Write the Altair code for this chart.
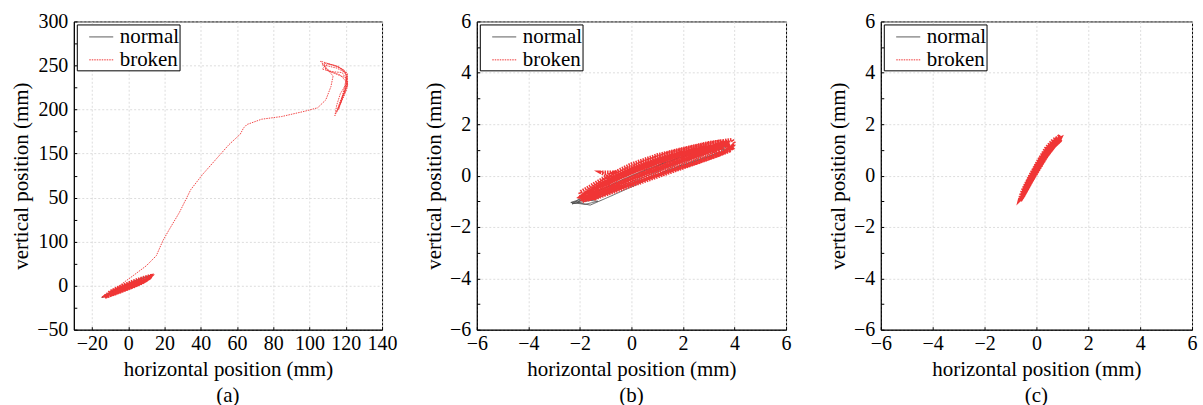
import altair as alt
import pandas as pd

FONT = "Liberation Serif"

# ---------------- panel (a) ----------------
a_normal_x = [-14.5, -10, -5, 0, 5, 10, 12.8, 10, 5, 0, -5, -10, -14.5,
              -13, -8, -3, 2, 7, 12, 13.5, 11, 6, 1, -4, -9, -13,
              -9, -4, 1, 6, 9, 6, 1, -4, -9]
a_normal_y = [-13.2, -10, -6, -2, 3, 8, 12, 9.5, 6, 1.5, -3.5, -8.5, -13.2,
              -12.5, -8.5, -4.5, 0, 4.5, 10, 12.5, 11, 7.5, 3, -1.5, -6.5, -12,
              -8, -4.5, -0.5, 3.5, 6.5, 5, 1.5, -2.5, -7]

a_loops_x = [-13, -8, -3, 2, 7, 11, 13, 10, 5, 0, -5, -10, -13,
             -12, -7, -2, 3, 8, 12, 12.5, 9, 4, -1, -6, -10, -12.5,
             -11, -6, -1, 4, 9, 12, 8, 3, -2, -7, -11,
             -10, -5, 0, 5, 10, 11.5, 7, 2, -3, -8, -10.5,
             -8, -3, 2, 7, 9, 5, 0, -5, -8]
a_loops_y = [-13, -9.5, -5.5, -1.5, 3, 7.5, 11.5, 10, 6.5, 2.5, -2, -7.5, -12,
             -12.5, -9, -5, -1, 3.5, 9, 11, 9.5, 6, 2, -2.5, -7, -11.5,
             -11.5, -7.5, -3.5, 0.5, 5, 9.5, 8, 4.5, 0.5, -4, -9,
             -10.5, -6.5, -2.5, 1.5, 6, 9, 6.5, 3, -1, -5.5, -9,
             -8, -4, 0, 4, 6, 4, 0.5, -3.5, -6.5]
a_path_x = [-8, -3.6, 2.7, 10, 15.5, 19.1, 22.7, 28.2, 34.5, 40.9, 48.2, 55.5, 61.8,
            63.6, 65.5, 73.6, 84.5, 97.3, 104.5, 109, 111.8,
            113, 108, 106, 112, 118, 121, 120, 117, 115, 114, 116, 119, 121, 120,
            116, 110, 107, 112, 118, 121, 119, 117, 115, 117, 120, 121, 119, 114,
            108, 109, 115, 120, 120, 118, 116, 118, 121, 120, 115, 107, 111, 117,
            121, 119, 117, 119, 121, 117]
a_path_y = [-6.5, 1.9, 11.3, 22.6, 34, 51, 64, 83, 109, 126, 143, 160, 172,
            179, 183, 189, 192, 198, 202, 211, 226,
            238, 250, 255, 251, 246, 238, 228, 218, 205, 193, 203, 215, 226, 240,
            249, 252, 246, 243, 242, 232, 220, 208, 197, 210, 222, 236, 245, 250,
            253, 245, 240, 236, 224, 212, 200, 214, 228, 242, 247, 251, 244, 239,
            230, 218, 206, 223, 241, 247]

# ---------------- panel (b) ----------------
b_normal_x = [-2.3, -1.5, -0.5, 0.5, 1.5, 2.5, 3.7, 3.0, 2.0, 1.0, 0.0, -1.0, -2.0, -2.3,
              -2.1, -1.6, -0.8, 0.2, 1.2, 2.2, 3.5, 3.6, 2.6, 1.6, 0.6, -0.4, -1.4, -2.1,
              -1.9, -1.0, 0.0, 1.0, 2.0, 3.2, 3.8, 3.3, 2.3, 1.3, 0.3, -0.7, -1.7,
              -1.5, -0.5, 0.5, 1.5, 2.5, 3.2, 2.5, 1.5, 0.5, -0.5, -1.5,
              -2.35, -1.8, -1.3, -1.8, -2.35]
b_normal_y = [-1.1, -0.95, -0.55, -0.15, 0.25, 0.6, 1.0, 1.05, 0.75, 0.4, 0.0, -0.45, -0.9, -1.1,
              -1.05, -1.15, -0.8, -0.35, 0.1, 0.45, 0.9, 1.05, 0.95, 0.6, 0.2, -0.2, -0.65, -1.05,
              -0.9, -0.7, -0.3, 0.05, 0.4, 0.8, 1.05, 1.15, 0.85, 0.5, 0.1, -0.35, -0.8,
              -0.85, -0.45, -0.05, 0.35, 0.7, 0.95, 0.8, 0.45, 0.05, -0.35, -0.75,
              -1.05, -1.12, -1.0, -0.95, -1.05]

b_loops_x = [-1.9, -1.0, 0.0, 1.0, 2.0, 3.0, 3.8, 4.0, 3.9, 3.0, 2.0, 1.0, 0.0, -1.0, -2.0, -1.9,
             -1.8, -0.9, 0.1, 1.1, 2.1, 3.1, 3.8, 3.7, 2.9, 1.9, 0.9, -0.1, -1.1, -1.8,
             -1.7, -0.8, 0.2, 1.2, 2.2, 3.2, 3.6, 2.8, 1.8, 0.8, -0.2, -1.2, -1.7,
             -1.5, -0.5, 0.5, 1.5, 2.5, 3.4, 3.0, 2.0, 1.0, 0.0, -1.0, -1.5,
             -1.8, -1.2, -0.3, 0.7, 1.7, 2.7, 3.6, 3.9, 3.4, 2.4, 1.4, 0.4, -0.6, -1.6, -1.8,
             -1.6, -0.7, 0.3, 1.3, 2.3, 3.3, 3.8, 3.2, 2.2, 1.2, 0.2, -0.8, -1.2, -0.7, -1.6,
             -1.4, -0.4, 0.6, 1.6, 2.6, 3.5, 3.1, 2.1, 1.1, 0.1, -0.9, -1.4,
             -2.0, -1.1, -0.1, 0.9, 1.9, 2.9, 3.7, 3.5, 2.5, 1.5, 0.5, -0.5, -1.5, -2.0,
             -1.7, -0.6, 0.4, 1.4, 2.4, 3.4, 3.9, 3.6, 2.6, 1.6, 0.6, -0.4, -1.4, -1.7,
             -1.3, -0.3, 0.7, 1.7, 2.7, 3.5, 2.7, 1.7, 0.7, -0.3, -1.3,
             -1.9, -1.0, 0.0, 1.0, 2.0, 3.0, 3.8, 3.5, 2.5, 1.5, 0.5, -0.5, -1.5, -1.9]
b_loops_y = [-1.0, -0.75, -0.4, -0.05, 0.3, 0.65, 0.95, 1.25, 1.4, 1.28, 1.05, 0.8, 0.45, -0.05, -0.65, -1.0,
             -0.9, -0.6, -0.25, 0.1, 0.45, 0.8, 1.1, 1.3, 1.2, 0.95, 0.65, 0.3, -0.2, -0.7,
             -0.85, -0.5, -0.1, 0.25, 0.6, 0.95, 1.2, 1.1, 0.85, 0.5, 0.15, -0.35, -0.75,
             -0.8, -0.35, 0.05, 0.4, 0.75, 1.05, 1.15, 0.9, 0.6, 0.25, -0.25, -0.7,
             -0.95, -0.8, -0.45, -0.1, 0.2, 0.55, 0.9, 1.15, 1.2, 1.0, 0.75, 0.4, 0.0, -0.55, -0.95,
             -0.75, -0.4, 0.0, 0.35, 0.7, 1.05, 1.3, 1.25, 1.0, 0.7, 0.35, -0.1, 0.13, 0.13, -0.6,
             -0.9, -0.5, -0.15, 0.2, 0.55, 0.9, 1.0, 0.8, 0.5, 0.15, -0.3, -0.8,
             -0.85, -0.55, -0.15, 0.2, 0.55, 0.9, 1.2, 1.35, 1.15, 0.9, 0.55, 0.1, -0.45, -0.85,
             -0.95, -0.55, -0.2, 0.15, 0.45, 0.8, 1.05, 1.25, 1.05, 0.8, 0.45, 0.05, -0.5, -0.95,
             -0.6, -0.2, 0.2, 0.55, 0.9, 1.2, 1.05, 0.75, 0.4, 0.0, -0.45,
             -0.75, -0.35, 0.1, 0.5, 0.8, 1.1, 1.35, 1.1, 0.85, 0.5, 0.15, -0.3, -0.7, -0.75]

# ---------------- panel (c) ----------------
c_normal_x = [-0.5, -0.2, 0.1, 0.4, 0.7, 0.8, 0.6, 0.3, 0.0, -0.3, -0.5,
              -0.45, -0.1, 0.25, 0.55, 0.75, 0.5, 0.15, -0.2, -0.45]
c_normal_y = [-0.7, -0.2, 0.3, 0.75, 1.1, 1.3, 1.15, 0.75, 0.25, -0.3, -0.7,
              -0.75, -0.1, 0.5, 0.95, 1.25, 1.05, 0.55, -0.05, -0.6]

c_loops_x = [-0.65, -0.4, -0.1, 0.2, 0.5, 0.8, 0.97, 0.85, 0.6, 0.3, 0.0, -0.3, -0.6, -0.65,
             -0.6, -0.35, -0.05, 0.25, 0.55, 0.85, 0.92, 0.7, 0.4, 0.1, -0.2, -0.5, -0.6,
             -0.55, -0.25, 0.05, 0.35, 0.65, 0.9, 0.75, 0.45, 0.15, -0.15, -0.45, -0.55,
             -0.62, -0.45, -0.15, 0.15, 0.45, 0.75, 0.95, 0.88, 0.65, 0.35, 0.05, -0.25, -0.55, -0.62,
             -0.58, -0.3, 0.0, 0.3, 0.6, 0.88, 0.8, 0.55, 0.25, -0.05, -0.35, -0.58,
             -0.5, -0.2, 0.1, 0.4, 0.7, 0.93, 0.6, 0.3, 0.0, -0.3, -0.5]
c_loops_y = [-0.95, -0.55, 0.0, 0.5, 0.95, 1.25, 1.42, 1.52, 1.3, 0.9, 0.35, -0.25, -0.75, -0.95,
             -0.9, -0.5, 0.05, 0.55, 1.0, 1.3, 1.45, 1.35, 1.0, 0.5, -0.05, -0.6, -0.9,
             -0.85, -0.3, 0.2, 0.7, 1.1, 1.35, 1.4, 1.1, 0.65, 0.1, -0.45, -0.8,
             -0.98, -0.7, -0.15, 0.4, 0.85, 1.2, 1.38, 1.5, 1.4, 1.05, 0.55, 0.0, -0.6, -0.98,
             -0.92, -0.4, 0.1, 0.6, 1.05, 1.32, 1.45, 1.2, 0.8, 0.25, -0.3, -0.92,
             -0.8, -0.25, 0.25, 0.75, 1.15, 1.45, 1.25, 0.85, 0.4, -0.15, -0.8]

SERIES = ["normal", "broken"]
COLORS = ["#4d4d4d", "#f03535"]
PART_WIDTHS = {"normal": 0.9, "loop": 3.5, "path": 0.9}
TICKS_A_X = [-20, 0, 20, 40, 60, 80, 100, 120, 140]
TICKS_A_Y = [-50, 0, 50, 100, 150, 200, 250, 300]
MINOR_A_Y = [-50, -25, 0, 25, 50, 75, 100, 125, 150, 175, 200, 225, 250, 275, 300]
TICKS_BC = [-6, -4, -2, 0, 2, 4, 6]
MINOR_BC = [-6, -5, -4, -3, -2, -1, 0, 1, 2, 3, 4, 5, 6]
CAPTIONS = ["(a)", "(b)", "(c)"]


def make_df(groups):
    rows = []
    for series, part, xs, ys in groups:
        for i, (x, y) in enumerate(zip(xs, ys)):
            rows.append({"x": x, "y": y, "series": series, "part": part,
                         "w": PART_WIDTHS[part], "idx": i})
    return pd.DataFrame(rows)


def panel(df, xdom, ydom, xticks, yticks, yminor, caption, y_label_expr=None, w=310):
    legend = alt.Legend(
        title=None, orient="top-left", symbolType="stroke", symbolSize=576,
        symbolStrokeWidth=1, labelFont=FONT, labelFontSize=21, labelColor="black",
        strokeColor="black", fillColor="white", padding=0, offset=3,
        rowPadding=0, labelOffset=6, symbolOffset=12, labelLimit=200,
        labelExpr="datum.label + '\u00a0\u00a0\u00a0'",
    )
    yaxis_kwargs = dict(values=yticks, title="vertical position (mm)", labelFont=FONT,
                        titleFont=FONT, ticks=False, labelPadding=6)
    if y_label_expr:
        yaxis_kwargs["labelExpr"] = y_label_expr
    xaxis = alt.Axis(values=xticks, title="horizontal position (mm)", labelFont=FONT,
                     titleFont=FONT, labelOverlap=False, labelFlush=False, ticks=False,
                     labelPadding=4)
    # tick-only axes pulled inside the frame so that ticks point inward
    xticks_axis = alt.Axis(values=xticks, orient="bottom", offset=-3, labels=False, title=None,
                           grid=False, domain=False, ticks=True, tickSize=3)
    yticks_axis = alt.Axis(values=yminor, orient="left", offset=-3, labels=False, title=None,
                           grid=False, domain=False, ticks=True, tickSize=3)
    xs = alt.Scale(domain=xdom, nice=False, zero=False)
    ys = alt.Scale(domain=ydom, nice=False, zero=False)
    common = dict(
        color=alt.Color("series:N", scale=alt.Scale(domain=SERIES, range=COLORS), legend=legend),
        strokeDash=alt.StrokeDash("series:N", scale=alt.Scale(domain=SERIES, range=[[1, 0], [1.5, 1]]),
                                  legend=legend),
        strokeWidth=alt.StrokeWidth("w:Q", scale=None, legend=None),
        detail="part:N",
        order=alt.Order("idx:Q"),
    )
    base = alt.Chart(df)
    normal = base.transform_filter(alt.datum.series == "normal").mark_line(clip=True).encode(
        x=alt.X("x:Q", scale=xs, axis=xaxis), y=alt.Y("y:Q", scale=ys, axis=alt.Axis(**yaxis_kwargs)),
        **common)
    broken = base.transform_filter(alt.datum.series == "broken").mark_line(clip=True).encode(
        x=alt.X("x:Q", scale=xs, axis=xticks_axis), y=alt.Y("y:Q", scale=ys, axis=yticks_axis),
        **common)
    return alt.layer(normal, broken).resolve_axis(x="independent", y="independent").properties(
        width=w, height=309,
        title=alt.TitleParams(caption, orient="bottom", font=FONT, fontSize=21,
                              fontWeight="normal", color="black", offset=5),
    )


swap_expr = "datum.value == 100 ? '50' : datum.value == 50 ? '100' : datum.label"

pa = panel(make_df([("normal", "normal", a_normal_x, a_normal_y),
                    ("broken", "loop", a_loops_x, a_loops_y),
                    ("broken", "path", a_path_x, a_path_y)]),
           [-30, 140], [-50, 300], TICKS_A_X, TICKS_A_Y, MINOR_A_Y, CAPTIONS[0], swap_expr, w=309)
pb = panel(make_df([("normal", "normal", b_normal_x, b_normal_y),
                    ("broken", "loop", b_loops_x, b_loops_y)]),
           [-6, 6], [-6, 6], TICKS_BC, TICKS_BC, MINOR_BC, CAPTIONS[1], w=310)
pc = panel(make_df([("normal", "normal", c_normal_x, c_normal_y),
                    ("broken", "loop", c_loops_x, c_loops_y)]),
           [-6, 6], [-6, 6], TICKS_BC, TICKS_BC, MINOR_BC, CAPTIONS[2], w=312)

chart = alt.hconcat(pa, pb, pc, spacing=95, bounds="flush").resolve_scale(
    color="independent", strokeDash="independent"
).resolve_legend(
    color="independent", strokeDash="independent"
).properties(
    padding={"left": 10, "top": 10, "right": 5, "bottom": 0},
).configure(
    font=FONT, background="white"
).configure_view(
    stroke="black", strokeWidth=1
).configure_axis(
    labelFont=FONT, labelFontSize=20, labelColor="black",
    titleFont=FONT, titleFontSize=21, titleFontWeight="normal", titleColor="black",
    domainColor="black", domainWidth=1, tickColor="black",
    gridColor="#d4d4d4", gridDash=[2, 2], gridWidth=0.8,
    titlePadding=5,
)

chart.save("out.html", embed_options={"renderer": "svg", "actions": False})
